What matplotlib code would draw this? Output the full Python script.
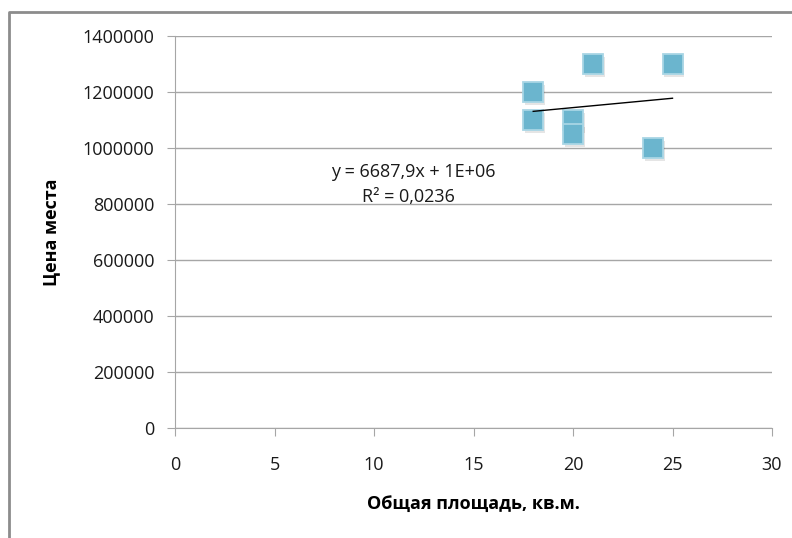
import matplotlib
matplotlib.use("Agg")
import matplotlib.pyplot as plt
import numpy as np
from matplotlib.lines import Line2D

plt.rcParams["font.family"] = ["Open Sans", "DejaVu Sans"]

# данные
area = [18, 18, 20, 20, 21, 25, 24]
price = [1200000, 1100000, 1100000, 1050000, 1300000, 1300000, 1000000]
x_ticks = [0, 5, 10, 15, 20, 25, 30]
y_ticks = [0, 200000, 400000, 600000, 800000, 1000000, 1200000, 1400000]

fig = plt.figure(figsize=(7.92, 5.38), dpi=100)
ax = fig.add_axes([175 / 792, 1 - 428 / 538, (772 - 175) / 792, (428 - 36) / 538])

# рамка диаграммы (видны только левая и верхняя стороны)
fig.add_artist(Line2D([9 / 792, 9 / 792, 1.0], [0.0, 1 - 12 / 538, 1 - 12 / 538],
                      transform=fig.transFigure, color="#8c8c8c", lw=2))

grid_c = "#a6a6a6"
ax.set_xlim(0, 30)
ax.set_ylim(0, 1400000)
ax.set_xticks(x_ticks)
ax.set_yticks(y_ticks)
ax.set_yticklabels([str(v) for v in y_ticks])
ax.yaxis.grid(True, color=grid_c, lw=1)
ax.set_axisbelow(True)
for s in ["top", "right"]:
    ax.spines[s].set_visible(False)
for s in ["left", "bottom"]:
    ax.spines[s].set_color(grid_c)
ax.tick_params(axis="both", colors=grid_c, labelcolor="#1a1a1a", labelsize=13, length=6, direction="out")
ax.tick_params(axis="x", pad=14)
ax.tick_params(axis="y", pad=9)

# тень маркеров
ax.plot(np.array(area) + 0.1, np.array(price) - 9000, "s", ms=15, color="#000000", alpha=0.10,
        mew=0, zorder=2)
ax.plot(area, price, "s", ms=14.5, mfc="#6bb5ce", mec="#a9d6e5", mew=1.3, zorder=3)

# линия тренда
k, b = np.polyfit(area, price, 1)
xs = np.array([min(area), max(area)])
ax.plot(xs, k * xs + b, color="black", lw=1, zorder=4)

ax.text(11.95, 914000, "y = 6687,9x + 1E+06", ha="center", va="center", fontsize=13, color="#1a1a1a")
ax.text(11.75, 825000, "R² = 0,0236", ha="center", va="center", fontsize=13, color="#1a1a1a")

ax.set_xlabel("Общая площадь, кв.м.", fontsize=13, fontweight="bold", labelpad=15)
ax.set_ylabel("Цена места", fontsize=13, fontweight="bold", labelpad=16)

fig.savefig("out.png", dpi=100)
